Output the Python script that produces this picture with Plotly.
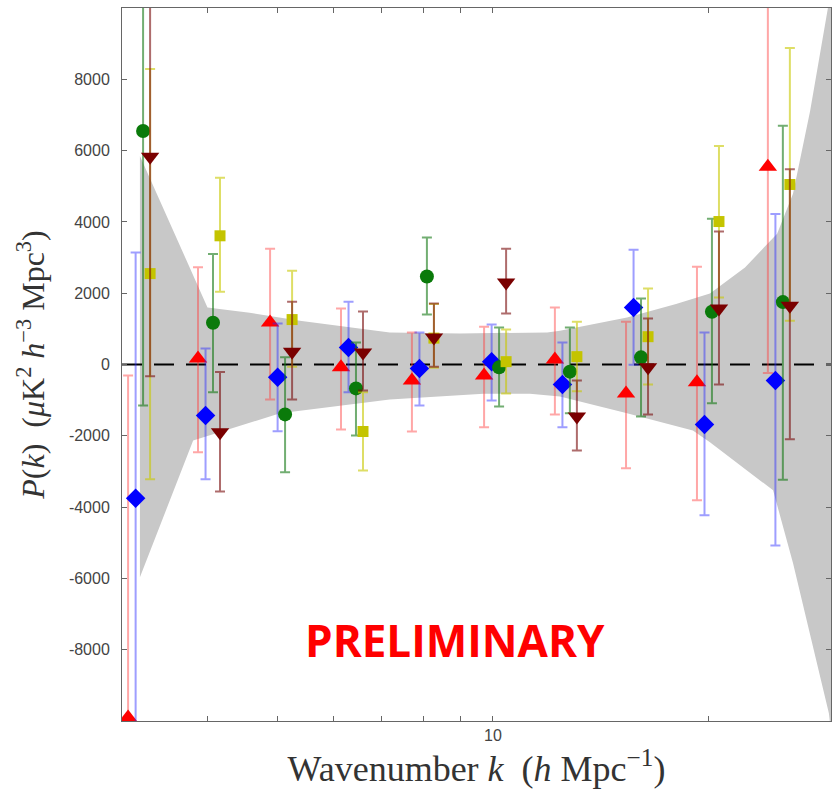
import math
import plotly.graph_objects as go

# ---------------- data ----------------
k_groups = [3.10, 3.88, 4.89, 6.14, 7.71, 9.72, 12.2, 15.33, 19.25, 24.17]

red      = [-9900, 170, 1180, -80, -450, -310, 140, -810, -500, 5550]
red_hi   = [-310, 2730, 3250, 1570, 900, 1060, 1600, 1200, 2740, 14000]
red_lo   = [-14000, -2460, -980, -1820, -1880, -1760, -1400, -2910, -3810, -240]

blue     = [-3750, -1430, -360, 480, -110, 80, -560, 1600, -1680, -450]
blue_hi  = [3140, 450, 1150, 1760, 900, 1120, 620, 3220, 900, 4220]
blue_lo  = [-14000, -3220, -1870, -780, -1150, -1010, -1760, -10, -4230, -5080]

green    = [6550, 1170, -1400, -670, 2470, -80, -200, 200, 1480, 1750]
green_hi = [14000, 3100, 200, 620, 3560, 1040, 1040, 1850, 4090, 6700]
green_lo = [-1150, -780, -3020, -1990, 1400, -1180, -1370, -1460, -1090, -3230]

yellow    = [2550, 3610, 1260, -1880, 740, 80, 220, 780, 4010, 5050]
yellow_hi = [8290, 5240, 2630, -780, 1700, 980, 1200, 2130, 6130, 8880]
yellow_lo = [-3220, 2040, -60, -2970, -90, -810, -750, -560, 1880, 1230]

darkred    = [5830, -1900, 360, 340, 760, 2300, -1460, -80, 1570, 1650]
darkred_hi = [14000, -210, 1760, 1490, 1710, 3250, -450, 1290, 3730, 5480]
darkred_lo = [-330, -3560, -980, -730, -60, 1430, -2410, -1400, -560, -2100]

band_k_upper = [3.22, 4.00, 4.58, 5.38, 7.18, 9.0, 11.9, 12.4, 15.38, 18.0, 20.07, 22.46, 24.9, 26.2, 27.68, 29.6]
band_upper   = [5850, 1600, 1450, 1230, 900, 870, 900, 950, 1320, 1700, 1990, 2720, 3670, 4790, 7110, 10500]
band_k_lower = [3.22, 3.82, 5.05, 7.18, 9.7, 11.26, 12.4, 15.38, 19.0, 20.07, 24.58, 26.2, 29.4, 29.6]
band_lower   = [-5970, -2130, -1370, -980, -820, -820, -900, -1370, -1850, -2180, -3530, -5570, -9780, -10300]

y_tickvals = [-8000, -6000, -4000, -2000, 0, 2000, 4000, 6000, 8000]
y_ticktext = ["-8000", "-6000", "-4000", "-2000", "0", "2000", "4000", "6000", "8000"]
x_tickvals = [10]
x_ticktext = ["10"]
x_minor_tickvals = [4, 5, 6, 7, 8, 9, 20]

K_MIN, K_MAX = 3.04, 29.6
Y_MIN, Y_MAX = -10000, 10000

# ---------------- figure ----------------
fig = go.Figure()

# shaded band
fig.add_trace(go.Scatter(
    x=band_k_upper + band_k_lower[::-1],
    y=band_upper + band_lower[::-1],
    fill="toself", fillcolor="rgb(200,200,200)",
    line=dict(width=0), mode="lines", hoverinfo="skip", showlegend=False))

# zero dashed line
fig.add_trace(go.Scatter(
    x=[K_MIN, K_MAX], y=[0, 0], mode="lines",
    line=dict(color="black", width=2, dash="20px,12px"),
    hoverinfo="skip", showlegend=False))

# horizontal dodge (multiplicative in k on a log axis)
dodge = {"red": 1.0, "blue": 1.0245, "green": 1.0493, "yellow": 1.0732, "darkred": 1.0732}

series = [
    ("red", red, red_hi, red_lo, "#ff0000", "rgba(255,60,60,0.45)", "triangle-up", 16),
    ("blue", blue, blue_hi, blue_lo, "#0000ff", "rgba(40,40,255,0.45)", "diamond", 15),
    ("green", green, green_hi, green_lo, "#0a7a0a", "rgba(20,120,20,0.6)", "circle", 14),
    ("yellow", yellow, yellow_hi, yellow_lo, "#c4c400", "rgba(200,200,0,0.6)", "square", 11),
    ("darkred", darkred, darkred_hi, darkred_lo, "#7a0000", "rgba(120,10,10,0.6)", "triangle-down", 16),
]

for name, vals, his, los, col, ecol, sym, size in series:
    xs = [k * dodge[name] for k in k_groups]
    fig.add_trace(go.Scatter(
        x=xs, y=vals, mode="markers", name=name, showlegend=False,
        marker=dict(symbol=sym, size=size, color=col, line=dict(width=0)),
        error_y=dict(type="data", symmetric=False,
                     array=[h - v for h, v in zip(his, vals)],
                     arrayminus=[v - l for v, l in zip(vals, los)],
                     color=ecol, thickness=2, width=5)))

fig.add_annotation(
    text="<b>PRELIMINARY</b>", xref="paper", yref="paper", x=0.469, y=0.114,
    xanchor="center", yanchor="middle",
    showarrow=False, font=dict(family="Open Sans", size=44, color="#ff0000"))

axis_common = dict(showline=True, linecolor="#666", linewidth=1, mirror="ticks",
                   ticks="inside", ticklen=5, tickcolor="#666", showgrid=False,
                   zeroline=False,
                   tickfont=dict(family="Liberation Sans", size=16, color="#444"))

fig.update_xaxes(type="log", range=[math.log10(K_MIN), math.log10(K_MAX)],
                 tickvals=x_tickvals, ticktext=x_ticktext,
                 minor=dict(tickvals=x_minor_tickvals, ticks="inside", ticklen=5,
                            tickcolor="#666", showgrid=False),
                 title=dict(text="Wavenumber <i>k</i>  (<i>h</i> Mpc<sup>−1</sup>)",
                            font=dict(family="Liberation Serif", size=36, color="#333"),
                            standoff=4),
                 **axis_common)
fig.update_yaxes(range=[Y_MIN, Y_MAX], tickvals=y_tickvals, ticktext=y_ticktext,
                 title=dict(text="<i>P</i>(<i>k</i>)  (<i>μ</i>K<sup>2</sup> <i>h</i><sup>−3</sup> Mpc<sup>3</sup>)",
                            font=dict(family="Liberation Serif", size=32, color="#333"),
                            standoff=14),
                 ticklabelstandoff=8,
                 **axis_common)

fig.update_layout(width=835, height=793, margin=dict(l=122, r=4, t=8, b=72),
                  paper_bgcolor="white", plot_bgcolor="white")

fig.write_html("out.html")
